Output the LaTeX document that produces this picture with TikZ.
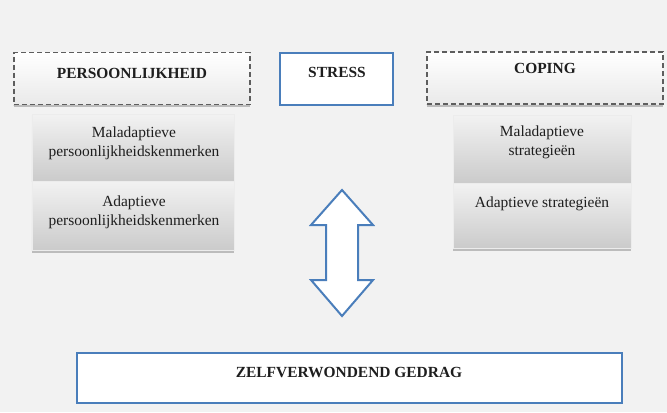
\documentclass[tikz,border=0pt]{standalone}
\usepackage{fontspec}
\setmainfont{Liberation Serif}
\usetikzlibrary{shadows}
\definecolor{pagebg}{HTML}{F2F2F2}
\definecolor{frameblue}{HTML}{4A7EBB}
\definecolor{dashgray}{HTML}{5E5E5E}
\definecolor{inktext}{HTML}{1E1E1E}
\definecolor{shadetop}{HTML}{F2F2F2}
\definecolor{shadebottom}{HTML}{CBCBCB}

\begin{document}
\begin{tikzpicture}[x=1bp,y=-1bp,
  every node/.style={inner sep=0pt, outer sep=0pt},
  softshadow/.style={drop shadow={shadow xshift=0bp, shadow yshift=-2.5bp, opacity=.22, fill=black}},
  headbox/.style={draw=dashgray, line width=1.5bp, dash pattern=on 5bp off 3bp,
    top color=white, bottom color=pagebg!80!gray!60, softshadow},
  bluebox/.style={draw=frameblue, line width=2bp, fill=white},
  itembox/.style={top color=shadetop, bottom color=shadebottom, draw=white!85!gray, line width=.4bp, softshadow},
  headtext/.style={font=\fontsize{15.5}{18}\selectfont\bfseries, text=inktext},
  itemtext/.style={font=\fontsize{15.5}{19}\selectfont, text=inktext, align=center}
]
  % page background
  \fill[pagebg] (0,0) rectangle (667,412);
  \useasboundingbox (0,0) rectangle (667,412);

  % top row: headings
  \node[headbox, minimum width=236bp, minimum height=52bp] (pers) at (132,78.5) {};
  \node[bluebox, minimum width=113bp, minimum height=52bp] (stress) at (336.5,79) {};
  \node[headbox, minimum width=236bp, minimum height=52bp] (coping) at (545,78) {};

  \node[headtext] (perslabel) at (132,73) {PERSOONLIJKHEID};
  \node[headtext] (stresslabel) at (337,72) {STRESS};
  \node[headtext] (copinglabel) at (545,68) {COPING};

  % personality traits
  \node[itembox, minimum width=202bp, minimum height=67bp] (lmal) at (133,147.5) {};
  \node[itembox, minimum width=202bp, minimum height=69bp] (lad) at (133,215.5) {};
  \node[itemtext] (lmaltext) at (134,143) {Maladaptieve\\persoonlijkheidskenmerken};
  \node[itemtext] (ladtext) at (134,212) {Adaptieve\\persoonlijkheidskenmerken};

  % coping strategies
  \node[itembox, minimum width=178bp, minimum height=68bp] (rmal) at (542,149) {};
  \node[itembox, minimum width=178bp, minimum height=65bp] (rad) at (542,215.5) {};
  \node[itemtext] (rmaltext) at (542,142) {Maladaptieve\\strategieën};
  \node[itemtext] (radtext) at (542,204) {Adaptieve strategieën};

  % two-way arrow between stress and behaviour
  \draw[draw=frameblue, line width=2bp, fill=white, line join=miter]
    (342,190) -- (373,225) -- (358,225) -- (358,280) -- (373,280) -- (342,316)
    -- (311,280) -- (326,280) -- (326,225) -- (311,225) -- cycle;

  % outcome
  \node[bluebox, minimum width=545bp, minimum height=50bp] (zelf) at (349.5,378) {};
  \node[headtext] (zelflabel) at (349,372) {ZELFVERWONDEND GEDRAG};
\end{tikzpicture}
\end{document}
